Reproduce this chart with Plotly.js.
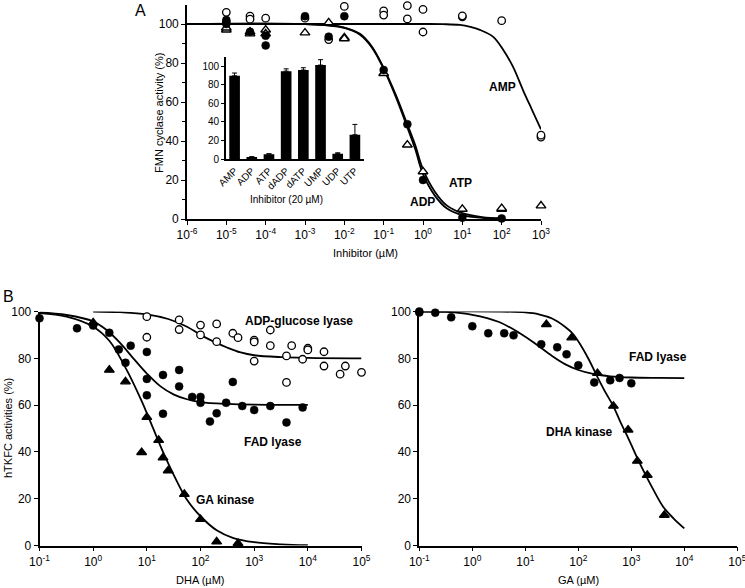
<!DOCTYPE html>
<html>
<head>
<meta charset="utf-8">
<script src="https://cdn.plot.ly/plotly-3.0.1.min.js"></script>
<style>html,body{margin:0;padding:0;background:#fff;}#chart{width:745px;height:588px;}</style>
</head>
<body>
<div id="chart"></div>
<script>
// ---------- Panel A: FMN cyclase inhibition ----------
const ampX = [1e-5,1e-5,4e-5,4e-5,1e-4,1e-3,4e-3,1e-2,0.1,0.1,0.4,0.4,1,1,10,10,100,1000,1000];
const ampY = [106,101,104,102.5,103,103,92,109,106.7,104.6,109.4,102.6,107.5,95.9,103.7,104.2,101.7,42,43];
const adpX = [1e-5,1e-5,4e-5,1e-4,1e-4,1e-3,4e-3,1e-2,0.1,0.4,1,10,100];
const adpY = [102,100,96,94,89,104,93.5,104,76.4,48.6,20,0.7,0.3];
const atpX = [1e-5,1e-5,4e-5,4e-5,1e-4,1e-4,1e-3,4e-3,1e-2,1e-2,0.1,0.4,1,10,100,100,1000];
const atpY = [97,98,95,96,97,95,95.5,100.7,93,92.5,74.7,38,24.3,5.1,5,5.5,6.8];

// fitted curves (x in µM)
const adpFitX = [1e-6,1e-3,3.2e-3,1e-2,2.5e-2,5e-2,0.1,0.2,0.4,0.63,1,2,4,10,32,100];
const adpFitY = [100,100,99.4,98,94.5,88,77,63,47,36,23,12,5.5,2,0.6,0.2];
const atpFitX = [1e-6,1e-3,3.2e-3,1e-2,2.5e-2,5e-2,0.1,0.2,0.4,0.63,1,2,4,10,32,100];
const atpFitY = [100,100,99.5,98.2,95,88.5,77.5,64,48.5,38,25.5,14,7,3,1,0.4];
const ampFitX = [1e-6,1,3.2,8.7,16,28,60,110,195,350,590,1000];
const ampFitY = [100,100,99.9,99.5,98.5,97,93.5,86.7,78,66,56,46];

// inset bar chart
const insetCats = ['AMP','ADP','ATP','dADP','dATP','UMP','UDP','UTP'];
const insetVals = [89.5,2.5,5.5,94.5,95.7,101,6,26.3];
const insetErr  = [3,0.3,0.5,2.5,2.5,5.8,1,11.1];

// ---------- Panel B left: DHA ----------
const fadLX = [0.1,0.5,1,2,3,5,4,10,10,10,20,20,40,40,70,100,100,150,200,300,400,600,1000,2000,4000,8000];
const fadLY = [97.1,92.8,94,90.9,83.8,85.4,78.1,82.7,71.2,64.2,72.9,56.3,75,68,63.5,63.5,61,53,56.5,61,69.9,59.6,57.9,59.6,52.6,59];
const adpgX = [10,10,40,40,100,100,200,200,400,500,1000,1000,1000,2000,2000,4000,4000,5000,8000,10000,10000,20000,20000,40000,50000,100000];
const adpgY = [97.8,89,96.4,92.3,94.2,90,94.7,87.1,90.7,88.8,87.8,87,78.8,92.1,85.4,81,69.7,85.4,79.6,84.3,83.6,82.8,76.7,73.2,76.7,74];
const gakX = [1,2,4,8,10,16.6,20,25,50,100,200,500];
const gakY = [95.2,75,70,39.8,54.8,45,37.5,32,21.9,11.2,1.6,0.9];

const gakFitX = [0.1,0.32,1,2,4,7.9,12.6,20,32,56,100,200,400,1000,3200,10000];
const gakFitY = [99.3,97.8,93.5,87.5,76,62,51,40,30,19.5,12.5,6.5,3.3,1.4,0.5,0.1];
const fadLFitX = [0.1,0.32,1,1.8,3.2,5.6,10,18,32,56,100,320,1000,10000];
const fadLFitY = [99.6,98.5,95.8,92,86.5,80,73.5,68,64.5,62.5,61.3,60.5,60.2,60.1];
const adpgFitX = [1,3.2,10,25,56,100,180,320,560,1000,3200,10000,100000];
const adpgFitY = [100,99.7,98.8,96.8,93.5,90,87,84.5,82.5,81.3,80.5,80.2,80];

// ---------- Panel B right: GA ----------
const fadRX = [0.1,0.1,0.2,0.4,0.6,1,2,4,6,20,40,60,100,200,400,600,1000];
const fadRY = [100,99.6,99.5,97.5,100.4,93.7,90.7,90.7,89.8,86,84.7,81.7,77,69.7,70.6,71.6,69.3];
const dhakX = [25,75,230,460,870,1300,2000,4200];
const dhakY = [94.5,88.8,73.6,59.6,49.4,36.1,30.1,13];

const fadRFitX = [0.1,0.32,1,3.2,7.9,16,32,56,100,200,400,1000,3200,10000];
const fadRFitY = [100,99.8,98.6,95.5,90.7,86,81,77.5,75,73.2,72.3,71.8,71.6,71.5];
const dhakFitX = [0.1,3.2,10,18,32,56,79,112,158,224,316,457,631,871,1259,1778,2512,3981,6310,10000];
const dhakFitY = [100,100,99.6,98.8,97,93.5,90.5,85.5,79.5,72.5,66,59.6,52.5,46,38,31,24.5,16.6,11.5,7.3];

const xTickVals = [1e-6,1e-5,1e-4,1e-3,1e-2,1e-1,1,10,100,1000];
const xTickText = ['10<sup>-6</sup>','10<sup>-5</sup>','10<sup>-4</sup>','10<sup>-3</sup>','10<sup>-2</sup>','10<sup>-1</sup>','10<sup>0</sup>','10<sup>1</sup>','10<sup>2</sup>','10<sup>3</sup>'];
const bTickVals = [0.1,1,10,100,1000,10000,100000];
const bTickText = ['10<sup>-1</sup>','10<sup>0</sup>','10<sup>1</sup>','10<sup>2</sup>','10<sup>3</sup>','10<sup>4</sup>','10<sup>5</sup>'];
const yTicks = [0,20,40,60,80,100];

const FONT = 'Arial, "Liberation Sans", Helvetica, sans-serif';
const W = 745, H = 588;
const px = v => v / W;
const py = v => 1 - v / H;

function openC(x, y, xa, ya) {
  return {x, y, xaxis: xa, yaxis: ya, type: 'scatter', mode: 'markers', cliponaxis: false,
    marker: {symbol: 'circle', size: 7.5, color: 'white', line: {color: 'black', width: 1.3}}};
}
function filledC(x, y, xa, ya) {
  return {x, y, xaxis: xa, yaxis: ya, type: 'scatter', mode: 'markers', cliponaxis: false,
    marker: {symbol: 'circle', size: 8, color: 'black', line: {color: 'black', width: 0.5}}};
}
function tri(x, y, xa, ya, filled) {
  return {x, y, xaxis: xa, yaxis: ya, type: 'scatter', mode: 'markers', cliponaxis: false,
    marker: {symbol: 'triangle-up', size: 8.5, color: filled ? 'black' : 'white', line: {color: 'black', width: 1.4}}};
}
function curve(x, y, xa, ya) {
  return {x, y, xaxis: xa, yaxis: ya, type: 'scatter', mode: 'lines', cliponaxis: false,
    line: {color: 'black', width: 1.8, shape: 'spline', smoothing: 1}};
}

const data = [
  curve(ampFitX, ampFitY, 'x', 'y'),
  curve(adpFitX, adpFitY, 'x', 'y'),
  curve(atpFitX, atpFitY, 'x', 'y'),
  openC(ampX, ampY, 'x', 'y'),
  tri(atpX, atpY, 'x', 'y', false),
  filledC(adpX, adpY, 'x', 'y'),
  {x: insetCats, y: insetVals, xaxis: 'x2', yaxis: 'y2', type: 'bar', width: 0.62,
   marker: {color: 'black'},
   error_y: {type: 'data', symmetric: false, array: insetErr, arrayminus: insetVals.map(() => 0),
             color: 'black', thickness: 1, width: 2.5}},
  curve(gakFitX, gakFitY, 'x3', 'y3'),
  curve(fadLFitX, fadLFitY, 'x3', 'y3'),
  curve(adpgFitX, adpgFitY, 'x3', 'y3'),
  openC(adpgX, adpgY, 'x3', 'y3'),
  filledC(fadLX, fadLY, 'x3', 'y3'),
  tri(gakX, gakY, 'x3', 'y3', true),
  curve(fadRFitX, fadRFitY, 'x4', 'y4'),
  curve(dhakFitX, dhakFitY, 'x4', 'y4'),
  filledC(fadRX, fadRY, 'x4', 'y4'),
  tri(dhakX, dhakY, 'x4', 'y4', true)
];

const axBase = {showline: true, linecolor: 'black', linewidth: 1.7, showgrid: false, zeroline: false,
  ticks: 'outside', ticklen: 4, tickcolor: 'black', tickwidth: 1.2, color: 'black', ticklabeloverflow: 'allow'};

const layout = {
  width: W, height: H, margin: {l: 0, r: 0, t: 0, b: 0},
  paper_bgcolor: 'white', plot_bgcolor: 'rgba(0,0,0,0)', showlegend: false,
  font: {family: FONT, color: 'black', size: 11},
  xaxis: Object.assign({}, axBase, {domain: [px(187), px(541)], anchor: 'y', type: 'log', range: [-6, 3],
    tickmode: 'array', tickvals: xTickVals, ticktext: xTickText, tickfont: {size: 12}}),
  yaxis: Object.assign({}, axBase, {domain: [1 - 219 / H, 1 - 4.5 / H], anchor: 'x', range: [0, 110],
    tickmode: 'array', tickvals: yTicks, tickfont: {size: 12},
    minor: {tickmode: 'array', tickvals: [10, 30, 50, 70, 90], ticks: 'outside', ticklen: 3, tickcolor: 'black'}}),
  xaxis2: Object.assign({}, axBase, {domain: [px(226), px(363.5)], anchor: 'y2', type: 'category',
    ticks: '', tickangle: -45, tickfont: {size: 10}}),
  yaxis2: Object.assign({}, axBase, {domain: [1 - 159.3 / H, 1 - 56.7 / H], anchor: 'x2', range: [0, 110],
    tickmode: 'array', tickvals: yTicks, ticklen: 3, tickfont: {size: 10}}),
  xaxis3: Object.assign({}, axBase, {domain: [px(39.5), px(361.5)], anchor: 'y3', type: 'log', range: [-1, 5],
    tickmode: 'array', tickvals: bTickVals, ticktext: bTickText, tickfont: {size: 12}}),
  yaxis3: Object.assign({}, axBase, {domain: [1 - 545.5 / H, 1 - 311.5 / H], anchor: 'x3', range: [0, 100],
    tickmode: 'array', tickvals: yTicks, tickfont: {size: 12}}),
  xaxis4: Object.assign({}, axBase, {domain: [px(419.3), px(737.3)], anchor: 'y4', type: 'log', range: [-1, 5],
    tickmode: 'array', tickvals: bTickVals, ticktext: bTickText, tickfont: {size: 12}}),
  yaxis4: Object.assign({}, axBase, {domain: [1 - 545.5 / H, 1 - 311.5 / H], anchor: 'x4', range: [0, 100],
    tickmode: 'array', tickvals: yTicks, tickfont: {size: 12}}),
  annotations: [
    {text: 'A', x: px(140), y: py(11), font: {size: 16}},
    {text: 'B', x: px(8), y: py(297), font: {size: 16}},
    {text: 'FMN cyclase activity (%)', x: px(159), y: py(113), textangle: -90, font: {size: 11}},
    {text: 'Inhibitor (µM)', x: px(365), y: py(253), font: {size: 11}},
    {text: 'Inhibitor (20 µM)', x: px(286), y: py(200), font: {size: 10}},
    {text: 'hTKFC activities (%)', x: px(8), y: py(428), textangle: -90, font: {size: 11}},
    {text: 'DHA (µM)', x: px(200), y: py(580), font: {size: 11}},
    {text: 'GA (µM)', x: px(578), y: py(580), font: {size: 11}},
    {text: '<b>AMP</b>', x: px(503), y: py(87), font: {size: 12}},
    {text: '<b>ATP</b>', x: px(460), y: py(183), font: {size: 12}},
    {text: '<b>ADP</b>', x: px(422), y: py(202), font: {size: 12}},
    {text: '<b>ADP-glucose lyase</b>', x: px(299), y: py(321), font: {size: 12}},
    {text: '<b>FAD lyase</b>', x: px(273), y: py(442), font: {size: 12}},
    {text: '<b>GA kinase</b>', x: px(225), y: py(500), font: {size: 12}},
    {text: '<b>FAD lyase</b>', x: px(658), y: py(357), font: {size: 12}},
    {text: '<b>DHA kinase</b>', x: px(579), y: py(432), font: {size: 12}}
  ].map(a => Object.assign({xref: 'paper', yref: 'paper', showarrow: false, xanchor: 'center', yanchor: 'middle'}, a))
};

Plotly.newPlot('chart', data, layout, {displayModeBar: false});
</script>
</body>
</html>
